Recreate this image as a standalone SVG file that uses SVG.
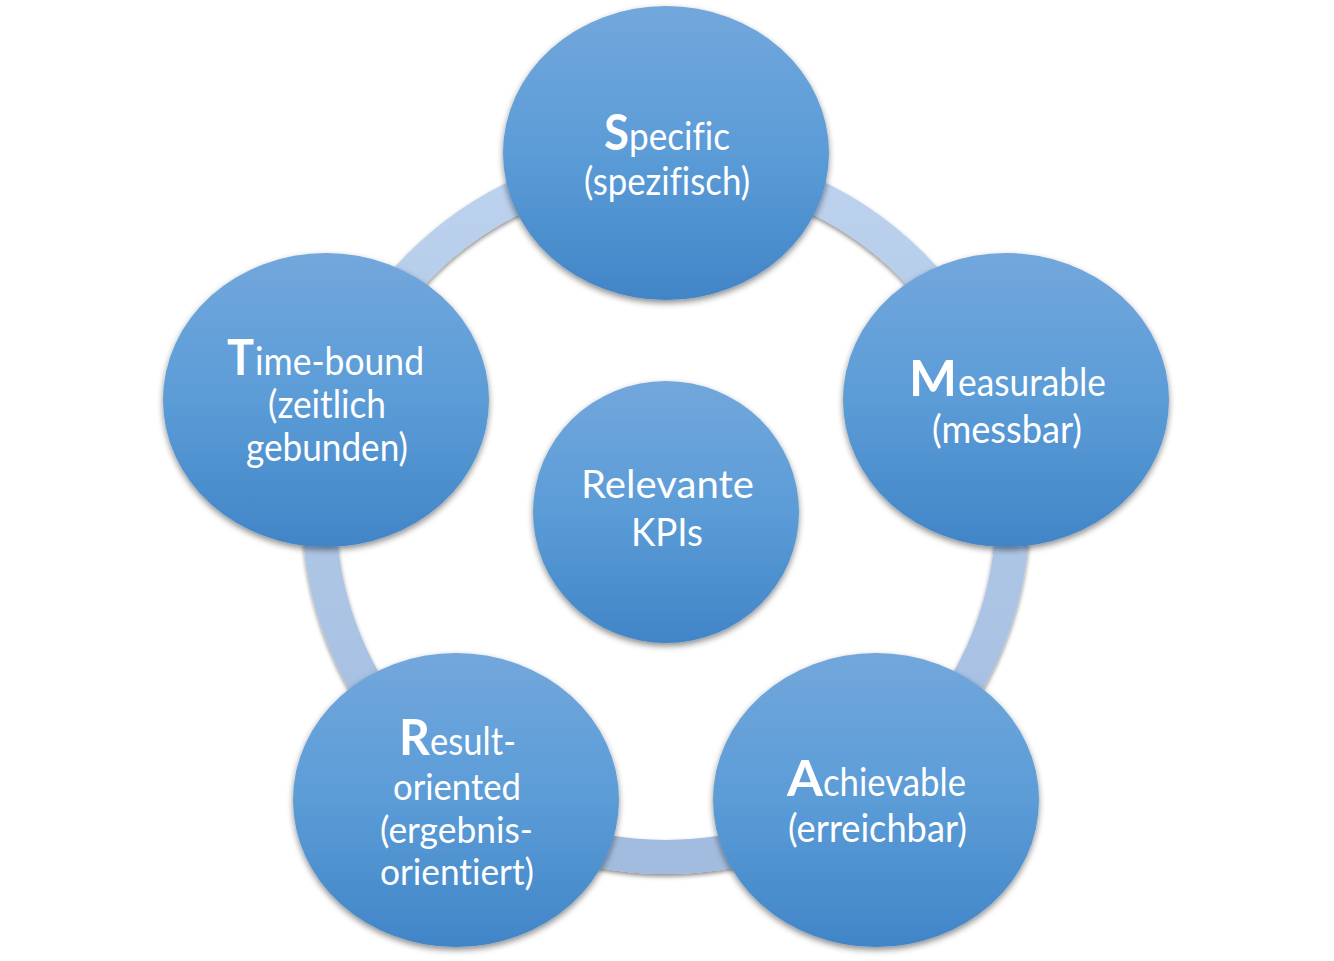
<svg xmlns="http://www.w3.org/2000/svg" width="1334" height="961" viewBox="0 0 1334 961">
<defs>
<linearGradient id="nodeGrad" x1="0" y1="0" x2="0" y2="1">
<stop offset="0" stop-color="#72a7dc"/>
<stop offset="0.5" stop-color="#5b9cd7"/>
<stop offset="1" stop-color="#4185c7"/>
</linearGradient>
<linearGradient id="ringGrad" x1="0" y1="0" x2="0" y2="1">
<stop offset="0" stop-color="#bcd2ee"/>
<stop offset="1" stop-color="#a2bcdf"/>
</linearGradient>
<filter id="shadow" x="-10%" y="-10%" width="120%" height="125%">
<feDropShadow dx="0" dy="3" stdDeviation="3" flood-color="#000" flood-opacity="0.45"/>
</filter>
<filter id="ringShadow" x="-10%" y="-10%" width="120%" height="120%">
<feDropShadow dx="0" dy="2.5" stdDeviation="2" flood-color="#000" flood-opacity="0.45"/>
</filter>
</defs>
<style>
.node{fill:url(#nodeGrad);filter:url(#shadow);}
.t{font-family:Lato,"Open Sans","Liberation Sans",sans-serif;font-size:38px;fill:#ffffff;font-variant-ligatures:none;}
.s{font-size:36px;}
.big{font-family:Lato,"Open Sans","Liberation Sans",sans-serif;font-size:49px;font-weight:bold;fill:#ffffff;}
</style>
<rect width="1334" height="961" fill="#ffffff"/>
<g id="connectors">
<circle cx="666" cy="510" r="347" fill="none" stroke="url(#ringGrad)" stroke-width="34" filter="url(#ringShadow)"/>
</g>
<g id="node-specific">
<ellipse class="node" cx="666" cy="153" rx="163" ry="147"/>
<text class="big" x="604" y="150" textLength="25" lengthAdjust="spacingAndGlyphs">S</text>
<text class="t" x="629" y="150" textLength="101" lengthAdjust="spacingAndGlyphs">pecific</text>
<text class="t" x="584" y="195" textLength="166" lengthAdjust="spacingAndGlyphs">(spezifisch)</text>
</g>
<g id="node-measurable">
<ellipse class="node" cx="1006" cy="400" rx="163" ry="147"/>
<text class="big" x="909" y="396" textLength="48" lengthAdjust="spacingAndGlyphs">M</text>
<text class="t" x="958" y="396" textLength="148" lengthAdjust="spacingAndGlyphs">easurable</text>
<text class="t" x="932" y="443" textLength="150" lengthAdjust="spacingAndGlyphs">(messbar)</text>
</g>
<g id="node-achievable">
<ellipse class="node" cx="876" cy="800" rx="163" ry="147"/>
<text class="big" x="787" y="796" textLength="36" lengthAdjust="spacingAndGlyphs">A</text>
<text class="t" x="823" y="796" textLength="143" lengthAdjust="spacingAndGlyphs">chievable</text>
<text class="t" x="788" y="842" textLength="179" lengthAdjust="spacingAndGlyphs">(erreichbar)</text>
</g>
<g id="node-result">
<ellipse class="node" cx="456" cy="800" rx="163" ry="147"/>
<text class="big" x="399" y="755" textLength="31" lengthAdjust="spacingAndGlyphs">R</text>
<text class="t" x="430" y="755" textLength="86" lengthAdjust="spacingAndGlyphs">esult-</text>
<text class="t s" x="393" y="800" textLength="128" lengthAdjust="spacingAndGlyphs">oriented</text>
<text class="t s" x="380" y="843" textLength="153" lengthAdjust="spacingAndGlyphs">(ergebnis-</text>
<text class="t s" x="380" y="885" textLength="154" lengthAdjust="spacingAndGlyphs">orientiert)</text>
</g>
<g id="node-timebound">
<ellipse class="node" cx="326" cy="400" rx="163" ry="147"/>
<text class="big" x="227" y="375" textLength="27" lengthAdjust="spacingAndGlyphs">T</text>
<text class="t" x="255" y="375" textLength="169" lengthAdjust="spacingAndGlyphs">ime-bound</text>
<text class="t" x="268" y="418" textLength="118" lengthAdjust="spacingAndGlyphs">(zeitlich</text>
<text class="t" x="246" y="461" textLength="162" lengthAdjust="spacingAndGlyphs">gebunden)</text>
</g>
<g id="node-center">
<ellipse class="node" cx="666" cy="512" rx="133" ry="131"/>
<text class="t" x="581" y="498" textLength="173" lengthAdjust="spacingAndGlyphs">Relevante</text>
<text class="t" x="631" y="546" textLength="72" lengthAdjust="spacingAndGlyphs">KPIs</text>
</g>
</svg>
